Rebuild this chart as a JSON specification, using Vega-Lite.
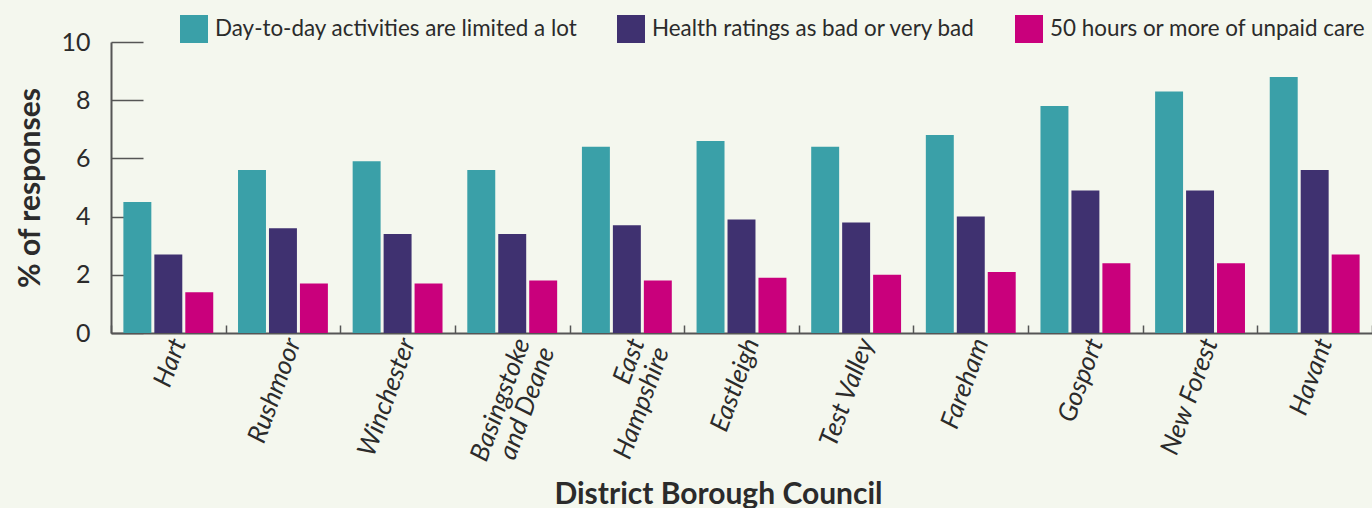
{
  "$schema": "https://vega.github.io/schema/vega-lite/v6.json",
  "width": 1261,
  "height": 291,
  "autosize": {"type": "none"},
  "padding": {"left": 111, "top": 42, "right": 0, "bottom": 175},
  "background": "#f4f7ee",
  "config": {
    "view": {"stroke": null},
    "font": "Lato",
    "text": {"font": "Lato"}
  },
  "datasets": {
    "rows": [
      {"district": "Hart", "measure": "Day-to-day activities are limited a lot", "value": 4.5},
      {"district": "Hart", "measure": "Health ratings as bad or very bad", "value": 2.7},
      {"district": "Hart", "measure": "50 hours or more of unpaid care", "value": 1.4},
      {"district": "Rushmoor", "measure": "Day-to-day activities are limited a lot", "value": 5.6},
      {"district": "Rushmoor", "measure": "Health ratings as bad or very bad", "value": 3.6},
      {"district": "Rushmoor", "measure": "50 hours or more of unpaid care", "value": 1.7},
      {"district": "Winchester", "measure": "Day-to-day activities are limited a lot", "value": 5.9},
      {"district": "Winchester", "measure": "Health ratings as bad or very bad", "value": 3.4},
      {"district": "Winchester", "measure": "50 hours or more of unpaid care", "value": 1.7},
      {"district": "Basingstoke and Deane", "measure": "Day-to-day activities are limited a lot", "value": 5.6},
      {"district": "Basingstoke and Deane", "measure": "Health ratings as bad or very bad", "value": 3.4},
      {"district": "Basingstoke and Deane", "measure": "50 hours or more of unpaid care", "value": 1.8},
      {"district": "East Hampshire", "measure": "Day-to-day activities are limited a lot", "value": 6.4},
      {"district": "East Hampshire", "measure": "Health ratings as bad or very bad", "value": 3.7},
      {"district": "East Hampshire", "measure": "50 hours or more of unpaid care", "value": 1.8},
      {"district": "Eastleigh", "measure": "Day-to-day activities are limited a lot", "value": 6.6},
      {"district": "Eastleigh", "measure": "Health ratings as bad or very bad", "value": 3.9},
      {"district": "Eastleigh", "measure": "50 hours or more of unpaid care", "value": 1.9},
      {"district": "Test Valley", "measure": "Day-to-day activities are limited a lot", "value": 6.4},
      {"district": "Test Valley", "measure": "Health ratings as bad or very bad", "value": 3.8},
      {"district": "Test Valley", "measure": "50 hours or more of unpaid care", "value": 2.0},
      {"district": "Fareham", "measure": "Day-to-day activities are limited a lot", "value": 6.8},
      {"district": "Fareham", "measure": "Health ratings as bad or very bad", "value": 4.0},
      {"district": "Fareham", "measure": "50 hours or more of unpaid care", "value": 2.1},
      {"district": "Gosport", "measure": "Day-to-day activities are limited a lot", "value": 7.8},
      {"district": "Gosport", "measure": "Health ratings as bad or very bad", "value": 4.9},
      {"district": "Gosport", "measure": "50 hours or more of unpaid care", "value": 2.4},
      {"district": "New Forest", "measure": "Day-to-day activities are limited a lot", "value": 8.3},
      {"district": "New Forest", "measure": "Health ratings as bad or very bad", "value": 4.9},
      {"district": "New Forest", "measure": "50 hours or more of unpaid care", "value": 2.4},
      {"district": "Havant", "measure": "Day-to-day activities are limited a lot", "value": 8.8},
      {"district": "Havant", "measure": "Health ratings as bad or very bad", "value": 5.6},
      {"district": "Havant", "measure": "50 hours or more of unpaid care", "value": 2.7}
    ]
  },
  "data": {"name": "rows"},
  "mark": {"type": "bar"},
  "encoding": {
    "x": {
      "field": "district",
      "type": "nominal",
      "sort": null,
      "scale": {"paddingInner": 0, "paddingOuter": 0},
      "axis": {
        "title": "District Borough Council",
        "titleFontSize": 30,
        "titleFontWeight": "bold",
        "titleColor": "#2b2b2b",
        "titleX": 607,
        "titleY": 170,
        "titleBaseline": "alphabetic",
        "labelAngle": -70,
        "labelFontSize": 26,
        "labelFontStyle": "italic",
        "labelColor": "#2b2b2b",
        "labelPadding": 14,
        "labelOffset": 10,
        "labelLineHeight": 26,
        "labelExpr": "datum.value == 'Basingstoke and Deane' ? ['Basingstoke', 'and Deane'] : datum.value == 'East Hampshire' ? ['East', 'Hampshire'] : datum.value",
        "tickBand": "extent",
        "tickSize": -8,
        "tickColor": "#555555",
        "tickWidth": 1.5,
        "domainColor": "#555555",
        "domainWidth": 2,
        "labelOverlap": false
      }
    },
    "xOffset": {
      "field": "measure",
      "type": "nominal",
      "sort": ["Day-to-day activities are limited a lot", "Health ratings as bad or very bad", "50 hours or more of unpaid care"],
      "scale": {"paddingInner": 0.097, "paddingOuter": 0.4}
    },
    "y": {
      "field": "value",
      "type": "quantitative",
      "scale": {"domain": [0, 10], "nice": false},
      "axis": {
        "title": "% of responses",
        "titleFontSize": 30,
        "titleFontWeight": "bold",
        "titleColor": "#2b2b2b",
        "titleX": -81,
        "titleBaseline": "middle",
        "values": [0, 2, 4, 6, 8, 10],
        "grid": false,
        "labelFontSize": 25,
        "labelColor": "#2b2b2b",
        "tickSize": -32,
        "labelPadding": 53,
        "tickColor": "#555555",
        "tickWidth": 1.5,
        "domainColor": "#555555",
        "domainWidth": 2,
        "zindex": 0
      }
    },
    "color": {
      "field": "measure",
      "type": "nominal",
      "sort": ["Day-to-day activities are limited a lot", "Health ratings as bad or very bad", "50 hours or more of unpaid care"],
      "scale": {
        "domain": ["Day-to-day activities are limited a lot", "Health ratings as bad or very bad", "50 hours or more of unpaid care"],
        "range": ["#3aa0a8", "#3f3170", "#c9007c"]
      },
      "legend": {
        "title": null,
        "orient": "none",
        "direction": "horizontal",
        "legendX": 69,
        "legendY": -27,
        "symbolType": "square",
        "symbolSize": 784,
        "symbolStrokeWidth": 0,
        "symbolOpacity": 1,
        "labelFontSize": 22.4,
        "labelColor": "#2b2b2b",
        "labelOffset": 7,
        "columnPadding": 39,
        "labelLimit": 500
      }
    }
  }
}
